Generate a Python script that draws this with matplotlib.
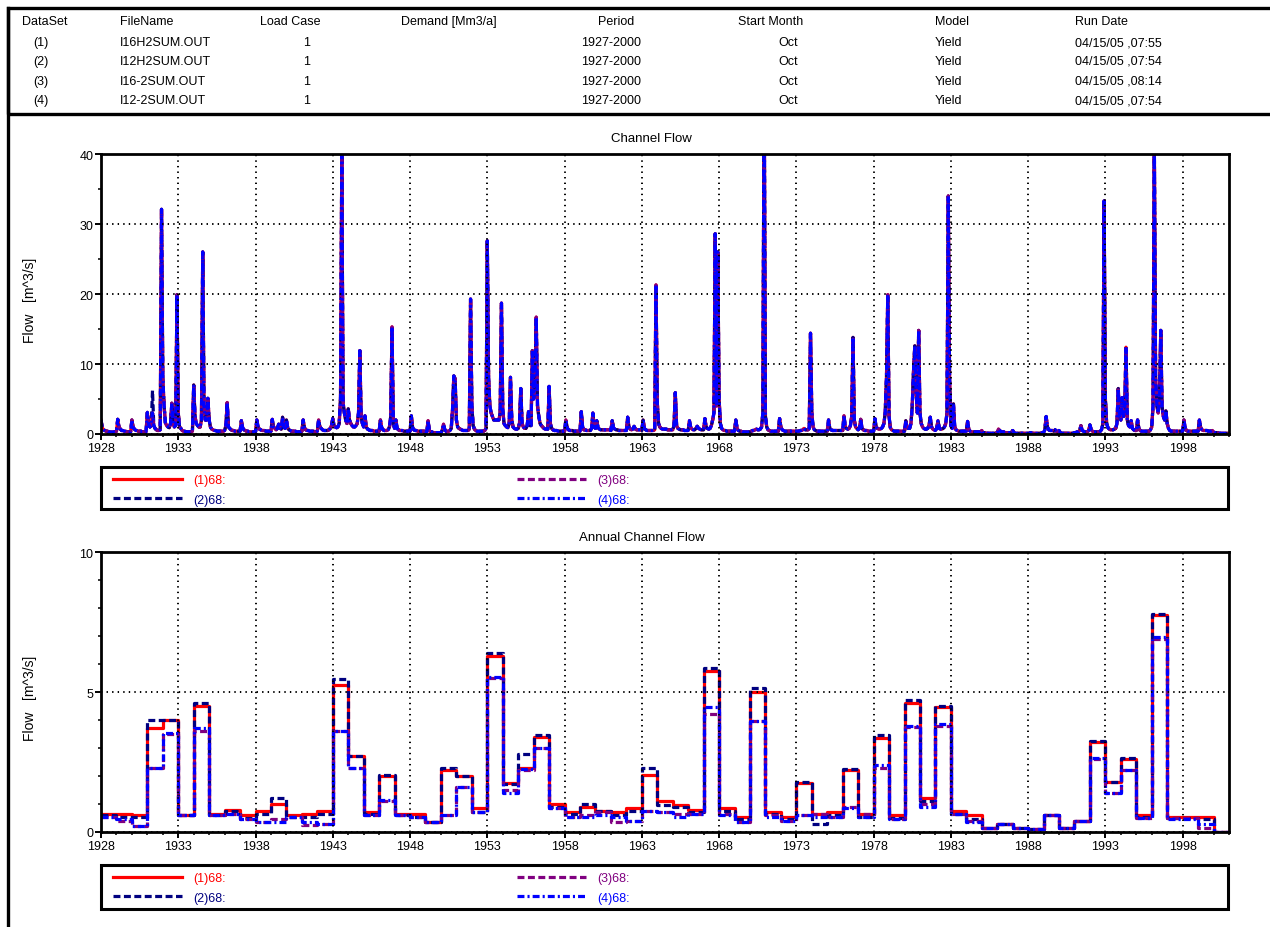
import numpy as np
import matplotlib
matplotlib.use('Agg')
import matplotlib.pyplot as plt
from matplotlib.patches import Rectangle
from matplotlib.lines import Line2D
from matplotlib.ticker import FixedLocator, MultipleLocator

plt.rcParams['font.family'] = ['Liberation Sans', 'DejaVu Sans']
plt.rcParams['lines.scale_dashes'] = False

# ---- run table ----
col_names = ['DataSet', 'FileName', 'Load Case', 'Demand [Mm3/a]', 'Period',
             'Start Month', 'Model', 'Run Date']
data_sets = ['(1)', '(2)', '(3)', '(4)']
file_names = ['I16H2SUM.OUT', 'I12H2SUM.OUT', 'I16-2SUM.OUT', 'I12-2SUM.OUT']
load_cases = ['1', '1', '1', '1']
demands = ['', '', '', '']
periods = ['1927-2000'] * 4
start_months = ['Oct'] * 4
models = ['Yield'] * 4
run_dates = ['04/15/05 ,07:55', '04/15/05 ,07:54', '04/15/05 ,08:14', '04/15/05 ,07:54']

# ---- channel flow, monthly (hydrological year, Oct..Sep) ----
years = np.arange(1928, 2001)
monthly_flow = np.array([
    [2.0, 0.9, 0.6, 0.5, 0.4, 0.4, 0.3, 0.3, 0.3, 0.3, 0.3, 0.3],   # 1928
    [0.4, 2.1, 1.0, 0.7, 0.5, 0.5, 0.4, 0.4, 0.3, 0.3, 0.3, 0.3],
    [2.0, 0.9, 0.7, 0.5, 0.5, 0.4, 0.4, 0.4, 0.3, 0.3, 0.3, 0.3],
    [3.1, 1.4, 1.0, 1.2, 3.0, 1.2, 0.8, 0.6, 0.5, 0.5, 0.6, 32.1],
    [8.0, 4.0, 1.6, 1.2, 1.0, 0.9, 1.5, 4.4, 1.5, 1.0, 1.2, 19.9],
    [3.0, 1.0, 0.8, 0.5, 0.4, 0.4, 0.3, 0.3, 0.3, 0.3, 0.3, 0.4],   # 1933
    [7.0, 2.5, 1.5, 1.2, 1.0, 1.0, 2.0, 26.0, 4.0, 2.0, 2.0, 5.1],
    [2.0, 1.0, 0.7, 0.6, 0.5, 0.5, 0.4, 0.4, 0.4, 0.4, 0.4, 0.4],
    [0.5, 1.2, 4.5, 1.0, 0.8, 0.6, 0.5, 0.5, 0.4, 0.4, 0.4, 0.4],
    [0.4, 1.9, 0.9, 0.6, 0.5, 0.4, 0.4, 0.3, 0.3, 0.3, 0.3, 0.3],
    [0.3, 2.0, 1.0, 0.7, 0.6, 0.5, 0.5, 0.5, 0.4, 0.4, 0.4, 0.4],   # 1938
    [0.4, 2.1, 1.0, 0.8, 0.6, 0.8, 1.4, 0.8, 0.7, 2.4, 1.0, 0.8],
    [2.0, 0.9, 0.6, 0.5, 0.4, 0.4, 0.4, 0.4, 0.3, 0.3, 0.3, 0.3],
    [0.4, 2.0, 0.9, 0.6, 0.5, 0.5, 0.4, 0.4, 0.4, 0.4, 0.3, 0.3],
    [0.4, 2.0, 1.0, 0.8, 0.6, 0.5, 0.5, 0.5, 0.5, 0.6, 0.8, 1.2],
    [2.2, 1.2, 1.0, 0.9, 1.0, 1.5, 5.0, 39.8, 4.5, 3.0, 2.0, 1.5],  # 1943
    [3.6, 2.0, 1.5, 1.2, 1.0, 1.0, 1.2, 1.5, 3.0, 11.9, 2.5, 1.5],
    [1.0, 2.6, 1.0, 0.7, 0.6, 0.5, 0.5, 0.5, 0.4, 0.4, 0.4, 0.4],
    [0.4, 2.0, 0.9, 0.6, 0.5, 0.5, 0.5, 0.6, 1.0, 2.5, 15.3, 1.5],
    [0.8, 2.0, 0.8, 0.6, 0.5, 0.5, 0.5, 0.4, 0.4, 0.4, 0.4, 0.4],
    [0.4, 2.6, 0.9, 0.6, 0.5, 0.5, 0.4, 0.4, 0.4, 0.4, 0.4, 0.4],   # 1948
    [0.3, 0.3, 1.9, 0.5, 0.3, 0.3, 0.2, 0.2, 0.2, 0.2, 0.2, 0.2],
    [0.2, 0.5, 1.4, 0.6, 0.4, 0.4, 0.4, 0.5, 0.8, 3.5, 8.3, 7.9],
    [2.0, 1.0, 0.8, 0.7, 0.6, 0.5, 0.5, 0.5, 0.5, 0.5, 0.7, 19.3],
    [4.0, 1.2, 0.7, 0.5, 0.4, 0.4, 0.4, 0.4, 0.4, 0.4, 0.5, 0.8],
    [27.6, 8.0, 4.0, 3.0, 2.5, 2.0, 2.0, 2.0, 2.0, 2.0, 3.0, 18.7],  # 1953
    [3.5, 1.5, 1.2, 1.0, 0.9, 1.5, 8.1, 2.0, 1.0, 0.8, 0.7, 0.7],
    [0.8, 1.5, 6.5, 1.5, 1.0, 0.8, 0.8, 1.2, 3.2, 1.2, 1.2, 11.9],
    [5.0, 7.0, 16.7, 4.0, 2.5, 1.5, 1.2, 1.0, 0.8, 0.7, 0.7, 0.7],
    [6.8, 1.5, 0.8, 0.6, 0.5, 0.5, 0.5, 0.4, 0.4, 0.4, 0.4, 0.4],
    [0.4, 2.0, 0.9, 0.6, 0.5, 0.5, 0.5, 0.4, 0.4, 0.4, 0.4, 0.4],   # 1958
    [0.4, 3.2, 1.0, 0.6, 0.6, 0.5, 0.5, 0.5, 0.5, 0.8, 3.0, 1.0],
    [0.8, 1.9, 0.9, 0.7, 0.6, 0.6, 0.6, 0.6, 0.6, 0.6, 0.6, 0.6],
    [0.5, 1.9, 0.9, 0.7, 0.6, 0.6, 0.5, 0.5, 0.5, 0.5, 0.5, 0.5],
    [0.5, 2.4, 1.0, 0.7, 0.6, 0.7, 1.1, 0.7, 0.6, 0.6, 0.6, 0.6],
    [0.5, 2.0, 0.8, 0.6, 0.5, 0.5, 0.5, 0.5, 0.5, 0.5, 0.6, 21.3],  # 1963
    [4.5, 1.5, 1.0, 0.8, 0.7, 0.7, 0.7, 0.7, 0.6, 0.6, 0.6, 0.6],
    [0.6, 1.2, 5.9, 1.2, 0.8, 0.7, 0.6, 0.6, 0.6, 0.5, 0.5, 0.5],
    [0.5, 1.9, 0.9, 0.7, 0.6, 0.6, 0.8, 1.1, 0.8, 0.7, 0.6, 0.6],
    [0.6, 2.2, 1.0, 0.8, 0.7, 0.8, 1.2, 2.0, 3.0, 28.6, 4.0, 26.0],
    [5.0, 1.5, 0.8, 0.6, 0.5, 0.5, 0.4, 0.4, 0.4, 0.4, 0.4, 0.4],   # 1968
    [0.4, 2.0, 0.8, 0.5, 0.4, 0.4, 0.3, 0.3, 0.3, 0.3, 0.3, 0.3],
    [0.3, 0.4, 0.5, 0.5, 0.6, 0.7, 0.6, 0.6, 0.7, 1.0, 3.0, 52.0],
    [2.5, 1.0, 0.6, 0.5, 0.4, 0.4, 0.4, 0.4, 0.4, 0.4, 0.4, 2.2],
    [1.0, 0.6, 0.5, 0.4, 0.4, 0.4, 0.4, 0.4, 0.4, 0.4, 0.4, 0.4],
    [0.4, 0.4, 0.4, 0.5, 0.5, 0.6, 0.8, 0.6, 0.6, 0.6, 0.8, 14.4],  # 1973
    [3.0, 1.0, 0.6, 0.5, 0.4, 0.4, 0.4, 0.4, 0.4, 0.4, 0.4, 0.4],
    [0.4, 2.0, 0.8, 0.6, 0.5, 0.5, 0.5, 0.5, 0.5, 0.5, 0.5, 0.5],
    [0.5, 2.6, 1.0, 0.8, 0.7, 0.8, 1.2, 2.5, 13.8, 2.0, 1.0, 0.8],
    [0.6, 0.8, 2.1, 0.8, 0.6, 0.5, 0.5, 0.5, 0.4, 0.4, 0.4, 0.4],
    [0.4, 2.2, 1.0, 0.8, 0.7, 0.7, 0.8, 1.0, 1.5, 3.0, 8.0, 19.9],  # 1978
    [2.5, 0.9, 0.6, 0.5, 0.4, 0.4, 0.4, 0.4, 0.4, 0.4, 0.4, 0.4],
    [0.4, 1.9, 0.9, 0.8, 0.8, 1.5, 4.0, 9.0, 12.6, 6.0, 3.0, 14.8],
    [3.0, 1.5, 1.0, 0.8, 0.7, 0.7, 0.8, 1.2, 2.4, 1.0, 0.7, 0.6],
    [0.5, 0.8, 1.9, 0.8, 0.7, 0.7, 0.8, 1.0, 1.5, 3.0, 34.0, 8.0],
    [1.2, 0.8, 4.3, 1.0, 0.6, 0.5, 0.4, 0.4, 0.4, 0.4, 0.4, 0.4],   # 1983
    [0.4, 1.8, 0.6, 0.4, 0.3, 0.3, 0.3, 0.3, 0.3, 0.3, 0.3, 0.3],
    [0.5, 0.2, 0.2, 0.1, 0.1, 0.1, 0.1, 0.1, 0.1, 0.1, 0.1, 0.1],
    [0.2, 0.7, 0.5, 0.3, 0.3, 0.3, 0.2, 0.2, 0.2, 0.2, 0.2, 0.2],
    [0.5, 0.2, 0.1, 0.1, 0.1, 0.1, 0.1, 0.1, 0.1, 0.1, 0.1, 0.1],
    [0.1, 0.1, 0.2, 0.1, 0.1, 0.1, 0.1, 0.1, 0.1, 0.1, 0.1, 0.2],   # 1988
    [0.2, 0.6, 2.5, 1.0, 0.6, 0.5, 0.5, 0.5, 0.4, 0.6, 0.4, 0.3],
    [0.5, 0.2, 0.1, 0.1, 0.1, 0.1, 0.1, 0.1, 0.1, 0.1, 0.1, 0.1],
    [0.2, 0.2, 0.3, 0.3, 0.5, 1.2, 0.5, 0.4, 0.3, 0.3, 0.3, 0.5],
    [1.3, 0.6, 0.4, 0.3, 0.3, 0.3, 0.3, 0.3, 0.4, 0.6, 1.4, 33.3],
    [5.0, 1.5, 0.9, 0.7, 0.6, 0.6, 0.6, 0.7, 0.8, 1.5, 6.5, 2.5],   # 1993
    [2.0, 5.2, 2.5, 3.0, 12.4, 2.0, 1.2, 1.0, 1.9, 0.8, 0.6, 0.5],
    [0.5, 2.0, 0.8, 0.5, 0.4, 0.4, 0.4, 0.4, 0.4, 0.4, 0.4, 0.6],
    [1.0, 4.0, 42.0, 8.0, 4.0, 3.0, 5.0, 14.8, 4.0, 2.5, 2.0, 3.3],
    [1.5, 0.8, 0.5, 0.4, 0.4, 0.4, 0.4, 0.4, 0.4, 0.4, 0.4, 0.4],
    [0.4, 2.0, 0.8, 0.5, 0.4, 0.4, 0.4, 0.4, 0.4, 0.4, 0.4, 0.4],   # 1998
    [0.4, 2.0, 0.9, 0.6, 0.5, 0.5, 0.5, 0.5, 0.4, 0.4, 0.4, 0.5],
    [0.3, 0.2, 0.2, 0.2, 0.1, 0.1, 0.1, 0.1, 0.1, 0.1, 0.1, 0.1],   # 2000
])
# months where dataset (2) departs visibly from the others
monthly_diff_2 = {(1931, 4): 6.2}

# ---- annual channel flow (one value per hydrological year) ----
annual_1 = [0.65, 0.65, 0.6, 3.7, 4.0, 0.6, 4.5, 0.65, 0.8, 0.6,
            0.75, 1.0, 0.6, 0.65, 0.75, 5.25, 2.7, 0.7, 2.0, 0.65,
            0.65, 0.35, 2.2, 2.0, 0.85, 6.3, 1.75, 2.3, 3.4, 1.0,
            0.7, 0.9, 0.75, 0.7, 0.85, 2.05, 1.1, 0.95, 0.8, 5.75,
            0.85, 0.55, 5.0, 0.7, 0.55, 1.75, 0.65, 0.7, 2.2, 0.65,
            3.35, 0.6, 4.6, 1.2, 4.45, 0.75, 0.6, 0.15, 0.3, 0.15,
            0.1, 0.6, 0.15, 0.4, 3.2, 1.8, 2.6, 0.6, 7.75, 0.55,
            0.55, 0.55, 0.0]
annual_2 = [0.6, 0.55, 0.55, 4.0, 4.0, 0.6, 4.6, 0.6, 0.75, 0.5,
            0.65, 1.2, 0.55, 0.55, 0.65, 5.45, 2.7, 0.65, 2.05, 0.6,
            0.55, 0.35, 2.3, 2.0, 0.7, 6.4, 1.7, 2.8, 3.45, 0.9,
            0.65, 1.0, 0.75, 0.6, 0.75, 2.3, 0.95, 0.9, 0.7, 5.85,
            0.75, 0.45, 5.15, 0.65, 0.45, 1.8, 0.3, 0.6, 2.25, 0.55,
            3.45, 0.5, 4.7, 1.1, 4.5, 0.65, 0.45, 0.15, 0.3, 0.15,
            0.1, 0.6, 0.15, 0.4, 3.25, 1.8, 2.65, 0.55, 7.8, 0.5,
            0.5, 0.45, 0.0]
annual_3 = [0.55, 0.4, 0.2, 2.3, 3.5, 0.6, 3.6, 0.6, 0.65, 0.45,
            0.35, 0.45, 0.55, 0.25, 0.3, 3.6, 2.3, 0.6, 1.1, 0.6,
            0.55, 0.35, 0.6, 1.6, 0.7, 5.5, 1.5, 2.2, 3.0, 0.85,
            0.55, 0.6, 0.7, 0.35, 0.4, 0.75, 0.7, 0.65, 0.65, 4.2,
            0.65, 0.35, 3.95, 0.6, 0.4, 0.6, 0.65, 0.55, 0.9, 0.65,
            2.3, 0.45, 3.75, 1.0, 3.8, 0.65, 0.4, 0.15, 0.3, 0.15,
            0.1, 0.6, 0.15, 0.4, 2.6, 1.4, 2.2, 0.5, 6.9, 0.5,
            0.5, 0.15, 0.0]
annual_4 = [0.55, 0.45, 0.2, 2.3, 3.55, 0.6, 3.7, 0.6, 0.65, 0.45,
            0.35, 0.35, 0.55, 0.35, 0.3, 3.6, 2.3, 0.6, 1.15, 0.6,
            0.55, 0.35, 0.6, 1.6, 0.7, 5.55, 1.4, 2.25, 3.0, 0.85,
            0.55, 0.55, 0.6, 0.55, 0.4, 0.75, 0.7, 0.55, 0.65, 4.45,
            0.6, 0.35, 3.95, 0.55, 0.4, 0.6, 0.55, 0.55, 0.85, 0.55,
            2.4, 0.45, 3.8, 0.9, 3.85, 0.65, 0.35, 0.15, 0.3, 0.15,
            0.1, 0.6, 0.15, 0.4, 2.65, 1.4, 2.2, 0.5, 6.95, 0.45,
            0.45, 0.3, 0.0]

labels = ['(1)68:', '(2)68:', '(3)68:', '(4)68:']
colors = ['#ff0000', '#000080', '#800080', '#0000ff']
styles = ['-', (0, (5, 2.5)), (0, (5, 2.5)), (0, (5, 2.2, 1.5, 2.2))]
LW = 2.3
FS = 9

W, H = 1270, 928
fig = plt.figure(figsize=(W / 100, H / 100), dpi=100)


def fx(px):
    return px / W


def fy(py):
    return 1 - py / H


# outer frame + run table box
fig.add_artist(Line2D([fx(8), fx(8)], [fy(9), 0], color='black', lw=2.4,
                      transform=fig.transFigure))
fig.add_artist(Rectangle((fx(8), fy(115)), 1.0, fy(9) - fy(115), fill=False,
                         ec='black', lw=2.4, transform=fig.transFigure))

hdr_x = [22, 120, 260, 401, 598, 738, 935, 1075]
row_x = [33, 120, 303, 401, 581, 778, 935, 1075]
for x, name in zip(hdr_x, col_names):
    fig.text(fx(x), fy(22), name, fontsize=FS, va='center', ha='left')
table_cols = [data_sets, file_names, load_cases, demands, periods,
              start_months, models, run_dates]
for i, yy in enumerate([43, 62, 82, 101]):
    for x, col in zip(row_x, table_cols):
        fig.text(fx(x), fy(yy), col[i], fontsize=FS, va='center', ha='left')

ax_left, ax_w = fx(101), fx(1229) - fx(101)
ax1 = fig.add_axes([ax_left, fy(435), ax_w, fy(155) - fy(435)])
ax2 = fig.add_axes([ax_left, fy(833), ax_w, fy(553) - fy(833)])

# monthly positions
mx = (years[:, None] + np.arange(12)[None, :] / 12.0).ravel()
series_monthly = []
for k in range(4):
    m = monthly_flow.copy()
    if k == 1:
        for (yr, mi), v in monthly_diff_2.items():
            m[yr - 1928, mi] = v
    series_monthly.append(m.ravel())

for k in range(4):
    ax1.plot(mx, series_monthly[k], color=colors[k], ls=styles[k], lw=LW,
             label=labels[k])

annuals = [annual_1, annual_2, annual_3, annual_4]
edges = np.append(years, 2001)
for k in range(4):
    vals = np.append(annuals[k], annuals[k][-1])
    ax2.plot(edges, vals, drawstyle='steps-post', color=colors[k],
             ls=styles[k], lw=LW, label=labels[k])

for ax, ymax, ymaj, ymin in [(ax1, 40, 10, 5), (ax2, 10, 5, 1)]:
    ax.set_xlim(1928, 2001)
    ax.set_ylim(0, ymax)
    ax.xaxis.set_major_locator(FixedLocator(np.arange(1928, 2001, 5)))
    ax.xaxis.set_minor_locator(MultipleLocator(1))
    ax.yaxis.set_major_locator(MultipleLocator(ymaj))
    ax.yaxis.set_minor_locator(MultipleLocator(ymin))
    ax.grid(which='major', color='black', ls=(0, (1, 3)), lw=1.4)
    for s in ax.spines.values():
        s.set_linewidth(2.0)
    ax.tick_params(which='major', direction='out', length=4, width=1.4,
                   labelsize=FS, pad=1.5)
    ax.tick_params(which='minor', direction='out', length=2.5, width=1.1)
    ax.set_axisbelow(False)

fig.text(fx(651), fy(139), 'Channel Flow', fontsize=FS + 0.5, ha='center', va='center')
fig.text(fx(642), fy(538), 'Annual Channel Flow', fontsize=FS + 0.5, ha='center', va='center')
for yy in [300, 698]:
    fig.text(fx(30), fy(yy), 'Flow   [m^3/s]', fontsize=FS + 1, rotation=90,
             ha='center', va='center')

# legend boxes
for ax, top, bot in [(ax1, 468, 510), (ax2, 866, 910)]:
    fig.add_artist(Rectangle((fx(101), fy(bot)), fx(1228) - fx(101), fy(top) - fy(bot),
                             fill=False, ec='black', lw=2.2, transform=fig.transFigure))
    leg = ax.legend(loc='upper left', bbox_to_anchor=(fx(113), fy(top + 7)),
                    bbox_transform=fig.transFigure, ncol=2, frameon=False,
                    fontsize=FS, handlelength=5.5, handletextpad=0.9,
                    columnspacing=23.3, labelspacing=0.62, borderpad=0,
                    borderaxespad=0)
    for txt, c in zip(leg.get_texts(), colors):
        txt.set_color(c)

fig.savefig('out.png', dpi=100)
